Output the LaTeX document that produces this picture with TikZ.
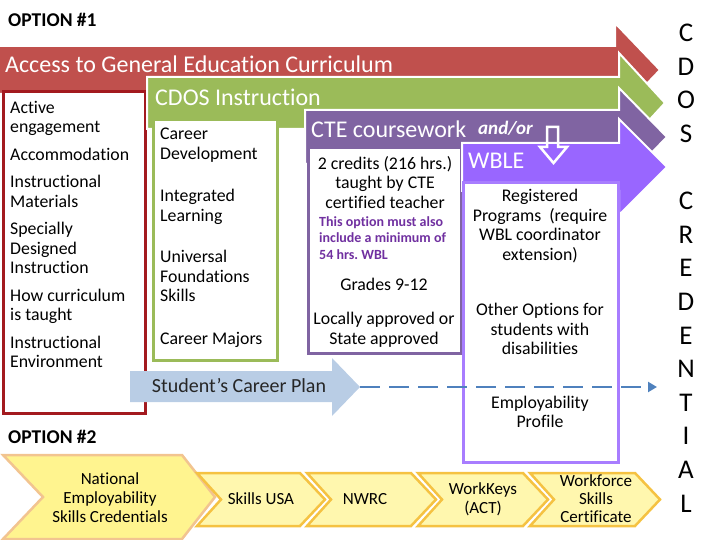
\documentclass[tikz,border=0pt]{standalone}
\usepackage{fontspec}
\setmainfont{Carlito}[Ligatures=NoCommon]
\usetikzlibrary{arrows.meta}
\frenchspacing
\definecolor{cdosred}{HTML}{C0504D}
\definecolor{boxred}{HTML}{A31A1F}
\definecolor{cdosgreen}{HTML}{9BBB59}
\definecolor{ctepurple}{HTML}{8064A2}
\definecolor{wblevio}{HTML}{9966FF}
\definecolor{planblue}{HTML}{B9CDE5}
\definecolor{dashblue}{HTML}{4F81BD}
\definecolor{notepurple}{HTML}{7030A0}
\definecolor{chevfill}{HTML}{FFF7AE}
\definecolor{chevline}{HTML}{F5C242}
\definecolor{bigfill}{HTML}{FFF48F}
\definecolor{bigline}{HTML}{F2C490}

\begin{document}
\begin{tikzpicture}[x=1pt, y=-1pt,
  every node/.style={inner sep=0pt, font=\fontsize{17.8}{19.5}\selectfont},
  band/.style={draw=white, line width=2pt},
  framebox/.style={fill=white, line width=3pt},
  bandtext/.style={anchor=west, text=white, font=\fontsize{24}{26}\selectfont},
  chev/.style={fill=chevfill, draw=chevline, line width=2.5pt},
  chevtext/.style={align=center, font=\fontsize{17}{19}\selectfont},
  optlabel/.style={anchor=base west, font=\bfseries\fontsize{19.5}{22}\selectfont},
  bigletter/.style={anchor=north, align=center, font=\fontsize{27}{33.6}\selectfont},
  >={Triangle[length=9pt, width=10pt]}]
	\useasboundingbox (0,0) rectangle (720,540);
	\node[optlabel] (opt1) at (8,27) {OPTION \#1};
	% general education band
	\fill[cdosred, band] (-3,46) -- (615,46) -- (615,23) -- (660,70) -- (615,117) -- (615,94) -- (-3,94) -- cycle;
	\node[bandtext] (gened) at (5,64) {Access to General Education Curriculum};
	\draw[framebox, draw=boxred] (3,92) rectangle (145,413);
	\node[anchor=north west, align=left] (redlist) at (10,101) {Active\\engagement\\[8pt]Accommodation\\[8pt]Instructional\\Materials\\[8pt]Specially\\Designed\\Instruction\\[8pt]How curriculum\\is taught\\[8pt]Instructional\\Environment};
	% CDOS band
	\fill[cdosgreen, band] (147,77) -- (619,77) -- (619,53) -- (665,103) -- (619,153) -- (619,129) -- (147,129) -- cycle;
	\node[bandtext] (cdosinst) at (155,97) {CDOS Instruction};
	\draw[framebox, draw=cdosgreen] (153,120) rectangle (277,360);
	\node[anchor=north west, align=left] (greenlist) at (160,128) {Career\\Development\\[23pt]Integrated\\Learning\\[22pt]Universal\\Foundations\\Skills\\[23pt]Career Majors};
	% CTE band
	\fill[ctepurple, band] (305,110) -- (619,110) -- (619,88) -- (667,137) -- (619,186) -- (619,164) -- (305,164) -- cycle;
	\node[bandtext] (ctecourse) at (311,129) {CTE coursework};
	\node[anchor=west, text=white, font=\bfseries\itshape\fontsize{19}{21}\selectfont] (andor) at (478,128) {and/or};
	\draw[framebox, draw=ctepurple] (308,148) rectangle (461,353);
	\node[anchor=north, align=center] (ctecredit) at (385,156) {2 credits (216 hrs.)\\taught by CTE\\certified teacher};
	\node[anchor=north west, align=left, text=notepurple, font=\bfseries\fontsize{14}{16.5}\selectfont] (ctenote) at (319,216) {This option must also\\include a minimum of\\54 hrs. WBL};
	\node (ctegrade) at (384,284) {Grades 9-12};
	\node[align=center] (cteappr) at (384,330) {Locally approved or\\State approved};
	% WBLE band
	\fill[wblevio, band] (462,143) -- (619,143) -- (619,119) -- (667,167) -- (619,215) -- (619,191) -- (462,191) -- cycle;
	\node[bandtext] (wble) at (468,161) {WBLE};
	\draw[framebox, draw=wblevio!85] (463,183) rectangle (618,462);
	\node[align=center] (wblereg) at (540,226) {Registered\\Programs\ \ (require\\WBL coordinator\\extension)};
	\node[align=center] (wbleother) at (540,329) {Other Options for\\students with\\disabilities};
	\node[align=center] (wbleprof) at (540,412) {Employability\\Profile};
	\draw[white, line width=2.5pt, line join=miter] (547,127) -- (558,127) -- (558,147) -- (567,147) -- (553.5,163) -- (540,147) -- (547,147) -- cycle;
	% career plan
	\fill[planblue] (130,371) -- (332,371) -- (332,358) -- (360,387) -- (332,416) -- (332,402) -- (130,402) -- cycle;
	\node[text=black!85, font=\fontsize{20}{22}\selectfont] (plan) at (239,386) {Student’s Career Plan};
	\coordinate (plantip) at (360,387);
	\coordinate (credend) at (657,387);
	\draw[->, dashblue, line width=2.5pt, dash pattern=on 20pt off 9pt] (plantip) -- (credend);
	% option 2
	\node[optlabel] (opt2) at (8,443) {OPTION \#2};
	\filldraw[fill=bigfill, draw=bigline, line width=2.5pt] (3,455) -- (182,455) -- (215,497) -- (182,539) -- (3,539) -- (43,497) -- cycle;
	\filldraw[chev] (197,473) -- (300,473) -- (325,499.5) -- (300,526) -- (197,526) -- (221,499.5) -- cycle;
	\filldraw[chev] (307,473) -- (411,473) -- (436,499.5) -- (411,526) -- (307,526) -- (331,499.5) -- cycle;
	\filldraw[chev] (418,473) -- (523,473) -- (548,499.5) -- (523,526) -- (418,526) -- (442,499.5) -- cycle;
	\filldraw[chev] (530,473) -- (635,473) -- (660,499.5) -- (635,526) -- (530,526) -- (554,499.5) -- cycle;
	\node[chevtext] (nesc) at (110,498) {National\\Employability\\Skills Credentials};
	\node[chevtext] (skusa) at (261,499) {Skills USA};
	\node[chevtext] (nwrc) at (365,499) {NWRC};
	\node[chevtext] (wkeys) at (483,499.5) {WorkKeys\\(ACT)};
	\node[chevtext, font=\fontsize{17}{18}\selectfont] (wfsc) at (596,499) {Workforce\\Skills\\Certificate};
	% right hand column
	\node[bigletter] (cdos) at (686,24) {C\\D\\O\\S};
	\node[bigletter] (cred) at (686,192) {C\\R\\E\\D\\E\\N\\T\\I\\A\\L};
\end{tikzpicture}
\end{document}
